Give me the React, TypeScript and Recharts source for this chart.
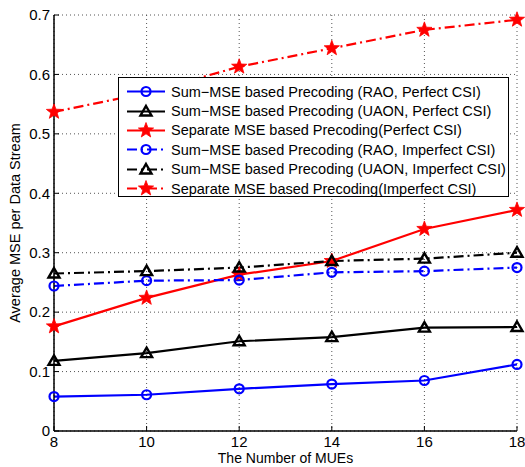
import React from 'react';
import { LineChart, Line, XAxis, YAxis, CartesianGrid, Legend } from 'recharts';

const mues = [8, 10, 12, 14, 16, 18];
const raoPerfect = [0.058, 0.061, 0.071, 0.079, 0.085, 0.112];
const uaonPerfect = [0.118, 0.131, 0.151, 0.158, 0.174, 0.175];
const sepPerfect = [0.176, 0.224, 0.263, 0.286, 0.34, 0.372];
const raoImperfect = [0.244, 0.253, 0.254, 0.267, 0.269, 0.275];
const uaonImperfect = [0.265, 0.269, 0.275, 0.286, 0.29, 0.3];
const sepImperfect = [0.537, 0.569, 0.613, 0.644, 0.675, 0.692];
const yTicks = [0, 0.1, 0.2, 0.3, 0.4, 0.5, 0.6, 0.7];
const legendLabels = [
  'Sum\u2212MSE based Precoding (RAO, Perfect CSI)',
  'Sum\u2212MSE based Precoding (UAON, Perfect CSI)',
  'Separate MSE based Precoding(Perfect CSI)',
  'Sum\u2212MSE based Precoding (RAO, Imperfect CSI)',
  'Sum\u2212MSE based Precoding (UAON, Imperfect CSI)',
  'Separate MSE based Precoding(Imperfect CSI)',
];

const data = mues.map((m, i) => ({
  m,
  raoP: raoPerfect[i],
  uaonP: uaonPerfect[i],
  sepP: sepPerfect[i],
  raoI: raoImperfect[i],
  uaonI: uaonImperfect[i],
  sepI: sepImperfect[i],
}));

const FONT = '"Liberation Sans", Arial, Helvetica, sans-serif';
const DASHDOT = '10 4 2 4';

const starPath = (cx: number, cy: number, R: number, r: number) => {
  let d = '';
  for (let i = 0; i < 10; i++) {
    const rad = i % 2 === 0 ? R : r;
    const a = -Math.PI / 2 + (i * Math.PI) / 5;
    d += (i === 0 ? 'M' : 'L') + (cx + rad * Math.cos(a)).toFixed(2) + ',' + (cy + rad * Math.sin(a)).toFixed(2);
  }
  return d + 'Z';
};

const Marker = ({ kind, color, cx, cy }: { kind: string; color: string; cx: number; cy: number }) => {
  if (kind === 'circle') return <circle cx={cx} cy={cy} r={4.5} fill="none" stroke={color} strokeWidth={2.2} />;
  if (kind === 'tri')
    return (
      <path
        d={`M${cx},${cy - 5.5} L${cx + 5.5},${cy + 4} L${cx - 5.5},${cy + 4} Z`}
        fill="none"
        stroke={color}
        strokeWidth={2.4}
        strokeLinejoin="miter"
      />
    );
  return <path d={starPath(cx, cy, 8, 3.3)} fill={color} stroke={color} strokeWidth={0.8} />;
};

const dotFn = (kind: string, color: string) => (p: any) =>
  <Marker key={`${kind}-${color}-${p.index}`} kind={kind} color={color} cx={p.cx} cy={p.cy} />;

const legendSpec = [
  { color: '#0000ff', kind: 'circle', dash: undefined },
  { color: '#000000', kind: 'tri', dash: undefined },
  { color: '#ff0000', kind: 'star', dash: undefined },
  { color: '#0000ff', kind: 'circle', dash: DASHDOT },
  { color: '#000000', kind: 'tri', dash: DASHDOT },
  { color: '#ff0000', kind: 'star', dash: DASHDOT },
];

const LegendBox = () => (
  <div
    style={{
      position: 'absolute',
      left: 118,
      top: 77,
      width: 391,
      height: 120,
      border: '1px solid #000',
      background: '#fff',
      fontFamily: FONT,
      fontSize: 14.5,
      color: '#000',
      boxSizing: 'border-box',
    }}
  >
    {legendLabels.map((lab, i) => (
      <div
        key={lab}
        style={{ position: 'absolute', left: 0, top: 4 + i * 19.4, height: 19.4, display: 'flex', alignItems: 'center', whiteSpace: 'nowrap' }}
      >
        <svg width={50} height={19} style={{ display: 'block' }}>
          <line x1={8} x2={46} y1={9.5} y2={9.5} stroke={legendSpec[i].color} strokeWidth={2} strokeDasharray={legendSpec[i].dash} />
          <Marker kind={legendSpec[i].kind} color={legendSpec[i].color} cx={27} cy={9.5} />
        </svg>
        <span style={{ marginLeft: 2 }}>{lab}</span>
      </div>
    ))}
  </div>
);

const tickStyle = { fontFamily: FONT, fontSize: 15, fill: '#000' };

const XTick = (p: any) => (
  <text x={p.x} y={447} textAnchor="middle" style={tickStyle}>
    {p.payload.value}
  </text>
);

export default function App() {
  return (
    <div style={{ position: 'absolute', left: 0, top: 0, width: 525, height: 467, background: '#fff' }}>
      <LineChart width={525} height={467} data={data} margin={{ top: 15, right: 8, left: 0, bottom: 0 }}>
        <CartesianGrid stroke="#555" strokeDasharray="1 3" strokeWidth={1} />
        <XAxis
          dataKey="m"
          type="number"
          domain={[8, 18]}
          ticks={mues}
          height={36}
          tick={XTick}
          tickSize={-5}
          tickMargin={17}
          stroke="#000"
          axisLine={{ stroke: '#000', strokeWidth: 1.5 }}
          tickLine={{ stroke: '#000' }}
          label={{
            content: (props: any) => {
              const vb = props.viewBox || {};
              return (
                <text x={vb.x + vb.width / 2} y={463} textAnchor="middle" style={{ fontFamily: FONT, fontSize: 14, fill: '#000' }}>
                  The Number of MUEs
                </text>
              );
            },
          }}
        />
        <XAxis
          xAxisId="top"
          orientation="top"
          dataKey="m"
          type="number"
          domain={[8, 18]}
          ticks={mues}
          height={0}
          tickFormatter={() => ''}
          tickSize={-5}
          axisLine={{ stroke: '#000', strokeWidth: 1.2 }}
          tickLine={{ stroke: '#000' }}
        />
        <YAxis
          type="number"
          domain={[0, 0.7]}
          ticks={yTicks}
          width={54}
          tick={tickStyle}
          tickFormatter={(v: number) => (v === 0 ? '0' : String(v))}
          tickSize={-5}
          tickMargin={9}
          axisLine={{ stroke: '#000', strokeWidth: 1.5 }}
          tickLine={{ stroke: '#000' }}
          label={{
            content: (props: any) => {
              const vb = props.viewBox || {};
              const cy = vb.y + vb.height / 2;
              return (
                <text x={20} y={cy} transform={`rotate(-90, 20, ${cy})`} textAnchor="middle" style={{ fontFamily: FONT, fontSize: 14.5, fill: '#000' }}>
                  Average MSE per Data Stream
                </text>
              );
            },
          }}
        />
        <YAxis
          yAxisId="right"
          orientation="right"
          type="number"
          domain={[0, 0.7]}
          ticks={yTicks}
          width={0}
          tickFormatter={() => ''}
          tickSize={-5}
          axisLine={{ stroke: '#000', strokeWidth: 1.2 }}
          tickLine={{ stroke: '#000' }}
        />
        <Line dataKey="raoP" stroke="#0000ff" strokeWidth={2.2} dot={dotFn('circle', '#0000ff')} isAnimationActive={false} />
        <Line dataKey="uaonP" stroke="#000000" strokeWidth={2.2} dot={dotFn('tri', '#000000')} isAnimationActive={false} />
        <Line dataKey="sepP" stroke="#ff0000" strokeWidth={2.2} dot={dotFn('star', '#ff0000')} isAnimationActive={false} />
        <Line dataKey="raoI" stroke="#0000ff" strokeWidth={2.2} strokeDasharray={DASHDOT} dot={dotFn('circle', '#0000ff')} isAnimationActive={false} />
        <Line dataKey="uaonI" stroke="#000000" strokeWidth={2.2} strokeDasharray={DASHDOT} dot={dotFn('tri', '#000000')} isAnimationActive={false} />
        <Line dataKey="sepI" stroke="#ff0000" strokeWidth={2.2} strokeDasharray={DASHDOT} dot={dotFn('star', '#ff0000')} isAnimationActive={false} />
        <Legend content={() => <LegendBox />} wrapperStyle={{ position: 'absolute', left: 0, top: 0, width: 0, height: 0 }} />
      </LineChart>
    </div>
  );
}
